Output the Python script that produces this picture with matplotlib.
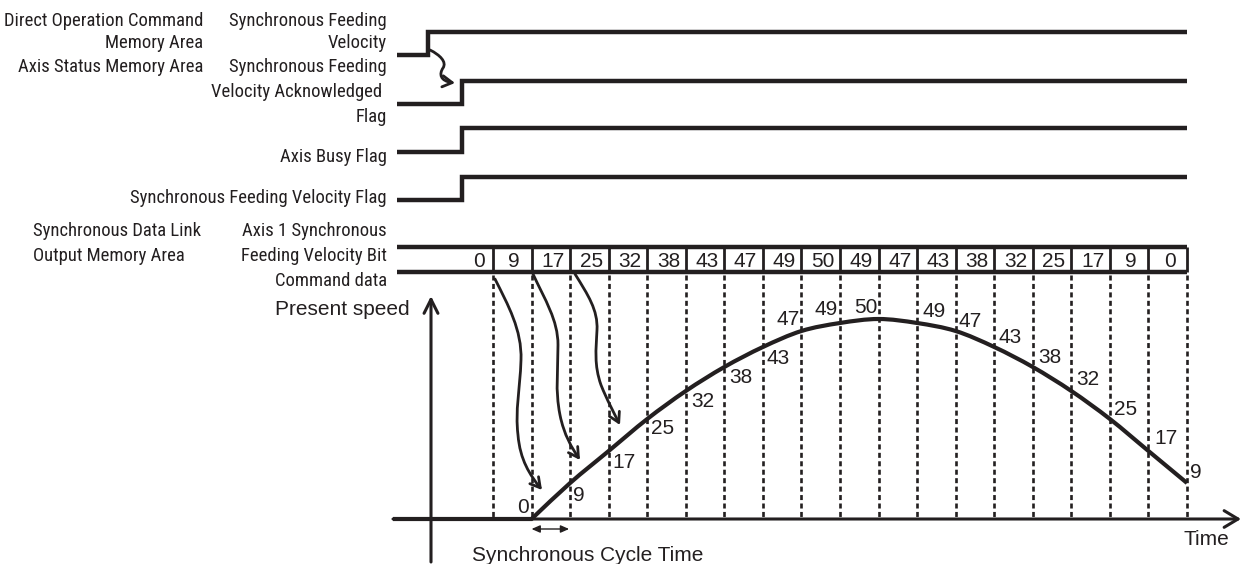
import matplotlib
matplotlib.use("Agg")
import matplotlib.pyplot as plt
from matplotlib import font_manager, transforms
from matplotlib.path import Path
from matplotlib.patches import FancyArrowPatch, PathPatch
import numpy as np

# ---------------- data ----------------
# command data sent every synchronous cycle (first cell = value before start)
command_data = [0, 9, 17, 25, 32, 38, 43, 47, 49, 50, 49, 47, 43, 38, 32, 25, 17, 9, 0]
# present speed reached at each cycle boundary (cycle index, value)
speed_cycles = list(range(1, 19))
present_speed = [0, 9, 17, 25, 32, 38, 43, 47, 49, 50, 49, 47, 43, 38, 32, 25, 17, 9]
# digital signals: rise time (in cycles)
signal_names = ["Synchronous Feeding Velocity",
                "Synchronous Feeding Velocity Acknowledged Flag",
                "Axis Busy Flag",
                "Synchronous Feeding Velocity Flag"]
signal_rise = [-1.68, -0.80, -0.80, -0.80]
timeline_start = -2.48
timeline_end = 18.0

# ---------------- layout (pixels) ----------------
W, H = 1244, 564
X0, DX = 493.0, 38.556       # pixel of cycle 0, pixels per cycle
Y0, SY = 519.0, 4.0          # pixel of speed 0, pixels per speed unit
INK = "#231f20"

# ---- choose a narrow font for the signal labels, if any is installed ----
label_props = None
names = {f.name for f in font_manager.fontManager.ttflist}
for cand in ["Liberation Sans Narrow", "Arial Narrow", "Nimbus Sans Narrow",
             "Roboto Condensed", "Open Sans Condensed", "Noto Sans Condensed"]:
    if cand in names:
        label_props = dict(family=[cand])
        break
if label_props is None:
    for fam in ["Noto Sans", "Open Sans", "Roboto", "DejaVu Sans"]:
        hits = [f for f in font_manager.fontManager.ttflist
                if f.name == fam and f.stretch in ("condensed", "semi-condensed")
                and f.style == "normal" and f.weight in (400, "normal", "regular")]
        if hits:
            label_props = dict(family=[fam], stretch=hits[0].stretch)
            break
if label_props is None:
    label_props = dict(family=["Liberation Sans"])

MAIN_FONT = dict(family=["Liberation Sans", "DejaVu Sans"], size=15)

fig = plt.figure(figsize=(W / 100, H / 100), dpi=100)
fig.patch.set_facecolor("white")
ax = fig.add_axes([0, 0, 1, 1])
ax.set_xlim(0, W)
ax.set_ylim(H, 0)
ax.axis("off")

# fit label font size to the reference text widths
renderer = fig.canvas.get_renderer()
def _width(txt, size):
    t = ax.text(0, 0, txt, size=size, **label_props)
    w = t.get_window_extent(renderer).width
    t.remove()
    return w
s1 = 15 * 267 / _width("Synchronous Feeding Velocity Flag", 15)
s2 = 15 * 193 / _width("Direct Operation Command", 15)
LABEL_FONT = dict(label_props, size=min(15.5, float(np.sqrt(s1 * s2))))

sp = fig.add_axes([0, 0, 1, 1])
sp.set_xlim((0 - X0) / DX, (W - X0) / DX)
sp.set_ylim((Y0 - H) / SY, Y0 / SY)
sp.axis("off")
sp.patch.set_visible(False)
sp.set_autoscale_on(False)
blend = transforms.blended_transform_factory(sp.transData, ax.transData)

def px_to_cycle(x):
    return (x - X0) / DX

# ---------------- left labels ----------------
right_col = [("Synchronous Feeding", 26), ("Velocity", 48),
             ("Synchronous Feeding", 72), ("Velocity Acknowledged", 97, 382),
             ("Flag", 122), ("Axis Busy Flag", 162),
             ("Synchronous Feeding Velocity Flag", 203),
             ("Axis 1 Synchronous", 236), ("Feeding Velocity Bit", 261),
             ("Command data", 286)]
for item in right_col:
    txt, yb = item[0], item[1]
    xr = item[2] if len(item) > 2 else 387
    ax.text(xr, yb, txt, ha="right", va="baseline", color=INK, **LABEL_FONT)
for txt, yb in [("Direct Operation Command", 26), ("Memory Area", 48),
                ("Axis Status Memory Area", 72)]:
    ax.text(203, yb, txt, ha="right", va="baseline", color=INK, **LABEL_FONT)
for txt, yb in [("Synchronous Data Link", 236), ("Output Memory Area", 261)]:
    ax.text(33, yb, txt, ha="left", va="baseline", color=INK, **LABEL_FONT)

# ---------------- digital signals ----------------
levels = [(32, 55), (81, 104), (128, 152), (177, 200)]
for rise, (hi, lo) in zip(signal_rise, levels):
    sp.plot([timeline_start, rise, rise, timeline_end], [lo, lo, hi, hi],
            transform=blend, color=INK, lw=3.2,
            solid_joinstyle="miter", solid_capstyle="butt")

# ---------------- command data bus ----------------
BUS_TOP, BUS_BOT = 247, 272
for yb in (BUS_TOP, BUS_BOT):
    sp.plot([timeline_start, timeline_end], [yb, yb], transform=blend,
            color=INK, lw=3.2, solid_capstyle="butt")
n_cells = len(command_data)
for k in range(n_cells):
    sp.plot([k, k], [BUS_TOP, BUS_BOT], transform=blend, color=INK, lw=2.0,
            solid_capstyle="butt")
for k, v in enumerate(command_data):
    if k == 0:
        sp.text(-0.22, 267, str(v), transform=blend, ha="right", va="baseline",
                color=INK, **MAIN_FONT)
    else:
        sp.text(k - 0.45, 267, str(v), transform=blend, ha="center",
                va="baseline", color=INK, **MAIN_FONT)

# dashed cycle boundaries
for k in range(n_cells):
    sp.plot([k, k], [275, 517], transform=blend, color=INK, lw=1.9,
            dashes=(1.9, 1.3), solid_capstyle="butt", dash_capstyle="butt")

# ---------------- axes of the speed chart ----------------
ax.add_patch(FancyArrowPatch((431, 562), (431, 296), arrowstyle="->,head_length=10,head_width=5",
                             lw=2.2, color=INK, shrinkA=0, shrinkB=0, mutation_scale=1))
ax.add_patch(FancyArrowPatch((393, 519), (1241, 519), arrowstyle="->,head_length=10,head_width=6",
                             lw=2.2, color=INK, shrinkA=0, shrinkB=0, mutation_scale=1))
ax.text(275, 315, "Present speed", ha="left", va="baseline", color=INK, **MAIN_FONT)
ax.text(1183, 545, "Time", ha="left", va="baseline", color=INK, **MAIN_FONT)
ax.text(472, 561, "Synchronous Cycle Time", ha="left", va="baseline", color=INK, **MAIN_FONT)
ax.add_patch(FancyArrowPatch((X0 + DX, 529), (X0 + 2 * DX - 1, 529),
                             arrowstyle="<|-|>,head_length=5,head_width=2.2",
                             lw=1.0, color=INK, shrinkA=0, shrinkB=0, mutation_scale=1))

# ---------------- speed curve ----------------
P = np.column_stack([speed_cycles, present_speed]).astype(float)
T = np.zeros_like(P)
T[0] = P[1] - P[0]
T[-1] = P[-1] - P[-2]
T[1:-1] = (P[2:] - P[:-2]) / 2
verts = [(px_to_cycle(393), 0.0), tuple(P[0])]
codes = [Path.MOVETO, Path.LINETO]
for i in range(len(P) - 1):
    verts += [tuple(P[i] + T[i] / 3), tuple(P[i + 1] - T[i + 1] / 3), tuple(P[i + 1])]
    codes += [Path.CURVE4] * 3
sp.add_patch(PathPatch(Path(verts, codes), fill=False, lw=3.0, edgecolor=INK,
                       capstyle="butt", joinstyle="miter"))

# speed value labels: (ha, dx, dy) offsets in pixels (style only)
label_style = [("right", -3, 6), ("left", 3, -18), ("left", 4, -17), ("left", 4, -15),
               ("left", 5, -16), ("left", 5, -16), ("left", 4, -17),
               ("right", -2, 6), ("right", -2, 8), ("right", -1, 6),
               ("left", 5, 6), ("left", 3, 4), ("left", 4, 4), ("left", 5, 4),
               ("left", 5, 6), ("left", 4, 4), ("left", 6, 7), ("left", 3, 5)]
for c, v, (ha, dx, dy) in zip(speed_cycles, present_speed, label_style):
    sp.annotate(str(v), (c, v), xytext=(dx, dy), textcoords="offset pixels",
                ha=ha, va="baseline", color=INK, **MAIN_FONT)

# ---------------- wavy arrows ----------------
C4 = Path.CURVE4
wavy = [
    [(430, 50), (440, 55), (447, 62), (443, 68), (439, 74), (440, 81), (455, 83)],
    [(495, 279), (508, 305), (522, 330), (521, 360), (520, 390), (515, 410), (518, 435),
     (520, 460), (530, 475), (542, 490)],
    [(533, 274), (545, 300), (558, 320), (558, 345), (558, 370), (555, 390), (560, 415),
     (564, 435), (572, 448), (580, 460)],
    [(575, 274), (588, 295), (598, 310), (597, 330), (596, 350), (594, 365), (601, 385),
     (607, 400), (614, 413), (620, 425)],
]
for pts in wavy:
    cds = [Path.MOVETO] + [C4] * (len(pts) - 1)
    ax.add_patch(FancyArrowPatch(path=Path(pts, cds),
                                 arrowstyle="->,head_length=7,head_width=4",
                                 lw=2.0, color=INK, mutation_scale=1))

fig.savefig("out.png", dpi=100, facecolor="white")
